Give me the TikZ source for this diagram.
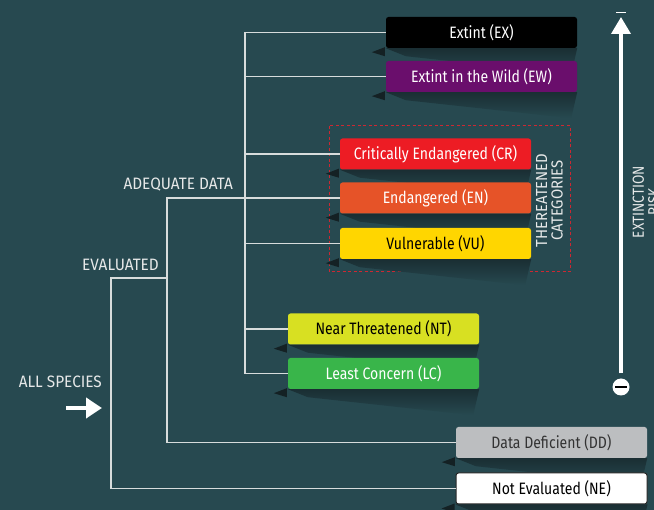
\documentclass[tikz,border=0pt]{standalone}
\usepackage{fontspec}
\setmainfont[FakeStretch=0.85]{Fira Sans}
\newfontfamily\lblfont[FakeStretch=0.93]{Fira Sans}
\usepackage{tikz}
\usetikzlibrary{arrows.meta,calc,backgrounds}
\definecolor{bgteal}{RGB}{39,73,80}
\definecolor{ewpurple}{RGB}{106,14,108}
\definecolor{crred}{RGB}{237,28,36}
\definecolor{enorange}{RGB}{230,83,40}
\definecolor{vuyellow}{RGB}{255,214,0}
\definecolor{ntlime}{RGB}{216,224,34}
\definecolor{lcgreen}{RGB}{57,181,74}
\definecolor{ddgray}{RGB}{188,190,192}
\definecolor{linegray}{RGB}{215,220,220}
\definecolor{labelgray}{RGB}{230,232,232}
\definecolor{framered}{RGB}{205,40,50}
\definecolor{shadowdark}{RGB}{26,46,51}
\definecolor{wedgedark}{RGB}{20,33,36}
\tikzstyle{catbox}=[rounded corners=2.5pt, minimum width=191pt, minimum height=31pt, inner sep=0pt, font=\fontsize{16.5}{18}\selectfont]
\tikzstyle{branch}=[draw=linegray, line width=1.3pt]
\tikzstyle{lbl}=[text=labelgray, inner sep=0pt, font=\lblfont\fontsize{16.5}{18}\selectfont]
\tikzstyle{threatframe}=[draw=framered, line width=1pt, dash pattern=on 3pt off 2.5pt]
\newcommand{\boxshadow}[1]{%
  \fill[wedgedark] ($(#1.south west)+(-14,4)$) -- ($(#1.south west)+(-1,-1)$) -- ($(#1.south west)+(-1,8)$) -- cycle;
  \shade[top color=shadowdark, bottom color=bgteal] (#1.south west) -- (#1.south east) -- ($(#1.south east)+(-6,26)$) -- ($(#1.south west)+(20,8)$) -- cycle;
}
\begin{document}
\begin{tikzpicture}[x=1pt,y=-1pt]
		\useasboundingbox (0,0) rectangle (654,510);
		\node[catbox, fill=black, text=white] (EX) at (481.5,32.5) {Extint (EX)};
		\node[catbox, fill=ewpurple, text=white] (EW) at (481.5,76.5) {Extint in the Wild (EW)};
		\node[catbox, fill=crred, text=white] (CR) at (435.5,154) {Critically Endangered (CR)};
		\node[catbox, fill=enorange, text=white] (EN) at (435.5,198) {Endangered (EN)};
		\node[catbox, fill=vuyellow, text=black] (VU) at (435.5,243.5) {Vulnerable (VU)};
		\node[catbox, fill=ntlime, text=black] (NT) at (383.5,329) {Near Threatened (NT)};
		\node[catbox, fill=lcgreen, text=white] (LC) at (383.5,373.5) {Least Concern (LC)};
		\node[catbox, fill=ddgray, text=black!80] (DD) at (551.5,442.5) {Data Deficient (DD)};
		\node[catbox, fill=white, draw=black!85, line width=1pt, text=black] (NE) at (551.5,488.5) {Not Evaluated (NE)};
		\begin{pgfonlayer}{background}
			\fill[bgteal] (0,0) rectangle (654,510);
			\draw[threatframe] (329,126) rectangle (570,272);
			\foreach \n in {EX,EW,CR,EN,VU,NT,LC,DD,NE} {\boxshadow{\n}}
		\end{pgfonlayer}
		\coordinate (trunk) at (245,0);
		\coordinate (adq) at (167,0);
		\coordinate (evl) at (111,278);
		\draw[branch] (EX.west) -- (EX.west -| trunk) -- (LC.west -| trunk) -- (LC.west);
		\foreach \n in {EW,CR,VU,NT} {\draw[branch] (\n.west) -- (\n.west -| trunk);}
		\draw[branch] (EN.west) -- (EN.west -| adq) -- (DD.west -| adq) -- (DD.west);
		\draw[branch] (evl -| adq) -- (evl) -- (evl |- NE.west) -- (NE.west);
		\node[lbl, anchor=base east] (adqlbl) at (233,190) {ADEQUATE DATA};
		\node[lbl, anchor=base east] (evllbl) at (159,271) {EVALUATED};
		\node[lbl, anchor=base east] (alllbl) at (102,388) {ALL SPECIES};
		\coordinate (allstart) at (66,408);
		\coordinate (allend) at (102,408);
		\draw[white, line width=4.5pt, -{Triangle[width=20pt,length=16pt]}] (allstart) -- (allend);
		\node[lbl, rotate=90, align=center, font=\lblfont\fontsize{16}{15.5}\selectfont] (thrlbl) at (549.5,200.5) {THEREATENED\\CATEGORIES};
		\node[circle, fill=white, minimum size=17pt, inner sep=0pt] (minus) at (621,387) {};
		\draw[black, line width=2.8pt] ($(minus)+(-6,0)$) -- ($(minus)+(6,0)$);
		\coordinate (plustop) at (621,17);
		\draw[white, line width=3.7pt, shorten <=5pt, -{Triangle[width=19pt,length=17pt]}] (minus.north) -- (plustop);
		\draw[white, line width=1.5pt] (616,12.5) -- (626,12.5);
		\node[lbl, rotate=90, align=center, font=\fontsize{16}{15.5}\selectfont] (risklbl) at (646,202) {EXTINCTION\\RISK};
	\end{tikzpicture}
\end{document}
